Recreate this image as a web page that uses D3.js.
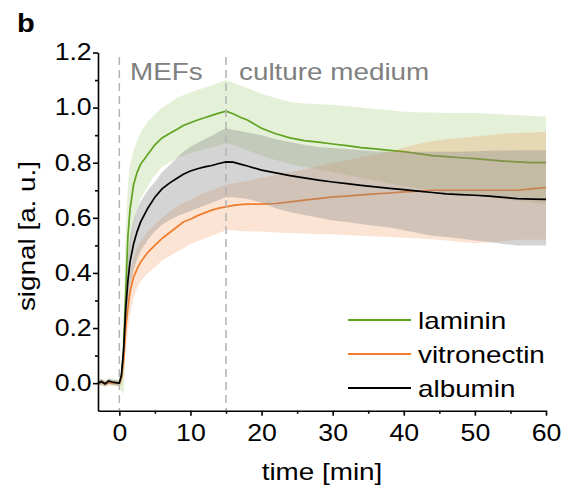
<!DOCTYPE html>
<html>
<head>
<meta charset="utf-8">
<script src="https://cdn.jsdelivr.net/npm/d3@7"></script>
<style>
  body { margin: 0; background: #fff; }
  text { font-family: "Liberation Sans", Arial, sans-serif; }
</style>
</head>
<body>
<svg id="chart" width="564" height="490"></svg>
<script>
// time axis [min]
const time = [-3,-2.5,-2,-1.5,-1,-0.5,0,0.3,0.6,0.9,1.2,1.5,2,2.5,3,4,5,6,7,8,9,10,11,12,13,14,15,16,17,18,
  20,22,24,26,28,30,32,34,36,38,40,42,44,46,48,50,52,54,56,58,60];

const lamininMean = [0.002,0.004,-0.001,0.005,0.003,0.001,0.0, 0.02,0.12,0.33,0.53,0.63, 0.72,0.765,0.795,
  0.83,0.865,0.89,0.905,0.92,0.935,0.945,0.955,0.963,0.972,0.98,0.987,0.978,0.965,0.955,
  0.925,0.905,0.89,0.88,0.875,0.868,0.862,0.855,0.85,0.845,0.84,0.833,0.826,0.822,0.818,0.815,0.81,0.806,0.803,0.80,0.80];
const lamininUpper = [0.012,0.014,0.01,0.015,0.013,0.011,0.012, 0.05,0.25,0.55,0.72,0.79, 0.845,0.88,0.91,
  0.95,0.975,1.0,1.015,1.035,1.045,1.055,1.065,1.072,1.08,1.09,1.10,1.09,1.08,1.072,
  1.05,1.035,1.02,1.015,1.012,1.01,1.005,1.0,0.995,0.99,0.985,0.983,0.982,0.98,0.98,0.98,0.978,0.975,0.972,0.97,0.967];
const lamininLower = [-0.008,-0.006,-0.01,-0.005,-0.007,-0.009,-0.012, -0.03,-0.04,0.15,0.35,0.47, 0.57,0.63,0.67,
  0.715,0.755,0.785,0.80,0.815,0.825,0.835,0.842,0.85,0.855,0.862,0.87,0.865,0.855,0.845,
  0.825,0.81,0.795,0.785,0.775,0.765,0.755,0.745,0.735,0.725,0.715,0.707,0.70,0.693,0.687,0.68,0.675,0.668,0.662,0.656,0.65];

const vitronectinMean = [0.0,0.003,-0.002,0.002,0.001,0.0,0.0, 0.02,0.08,0.20,0.27,0.33, 0.385,0.415,0.44,
  0.475,0.50,0.525,0.545,0.565,0.585,0.595,0.608,0.618,0.628,0.635,0.64,0.645,0.648,0.65,
  0.65,0.652,0.658,0.664,0.67,0.676,0.679,0.683,0.687,0.69,0.694,0.697,0.70,0.70,0.70,0.70,0.70,0.70,0.70,0.705,0.71];
const vitronectinUpper = [0.01,0.012,0.008,0.011,0.01,0.009,0.005, 0.04,0.12,0.26,0.34,0.40, 0.455,0.49,0.515,
  0.55,0.575,0.60,0.62,0.64,0.655,0.665,0.68,0.69,0.70,0.71,0.72,0.725,0.73,0.735,
  0.745,0.755,0.765,0.775,0.787,0.80,0.81,0.82,0.83,0.84,0.855,0.868,0.878,0.885,0.89,0.895,0.90,0.905,0.908,0.91,0.912];
const vitronectinLower = [-0.01,-0.008,-0.012,-0.009,-0.01,-0.011,-0.005, -0.01,0.03,0.12,0.19,0.25, 0.31,0.345,0.37,
  0.40,0.42,0.445,0.46,0.475,0.49,0.505,0.515,0.525,0.535,0.545,0.555,0.555,0.552,0.55,
  0.55,0.547,0.545,0.543,0.54,0.54,0.537,0.535,0.532,0.53,0.528,0.525,0.522,0.518,0.512,0.508,0.51,0.515,0.52,0.52,0.52];

const albuminMean = [0.0,0.006,-0.003,0.008,0.004,0.002,0.0, 0.03,0.12,0.27,0.37,0.44, 0.505,0.55,0.585,
  0.635,0.675,0.705,0.725,0.742,0.758,0.77,0.778,0.785,0.79,0.797,0.803,0.802,0.795,0.788,
  0.773,0.763,0.753,0.745,0.737,0.73,0.724,0.718,0.712,0.707,0.702,0.697,0.692,0.687,0.684,0.682,0.679,0.674,0.67,0.668,0.667];
const albuminUpper = [0.01,0.016,0.007,0.018,0.014,0.012,0.01, 0.05,0.16,0.33,0.46,0.53, 0.59,0.63,0.66,
  0.70,0.73,0.765,0.79,0.815,0.84,0.858,0.872,0.885,0.898,0.912,0.925,0.92,0.915,0.91,
  0.90,0.885,0.875,0.865,0.857,0.853,0.85,0.845,0.842,0.84,0.84,0.84,0.84,0.84,0.84,0.842,0.843,0.844,0.845,0.845,0.845];
const albuminLower = [-0.01,-0.004,-0.013,-0.002,-0.006,-0.008,-0.01, 0.01,0.08,0.21,0.29,0.35, 0.41,0.45,0.48,
  0.52,0.55,0.575,0.59,0.605,0.615,0.625,0.635,0.645,0.655,0.665,0.675,0.675,0.672,0.668,
  0.655,0.635,0.62,0.61,0.60,0.59,0.585,0.578,0.57,0.565,0.555,0.545,0.535,0.53,0.525,0.518,0.512,0.505,0.50,0.50,0.50];

const xTicks = [0, 10, 20, 30, 40, 50, 60];
const xMinor = [5, 15, 25, 35, 45, 55];
const yTicks = [0.0, 0.2, 0.4, 0.6, 0.8, 1.0, 1.2];
const yMinor = [0.1, 0.3, 0.5, 0.7, 0.9, 1.1];
const phaseTimes = [0, 15];
const phaseLabels = ["MEFs", "culture medium"];

const series = [
  { name: "laminin", mean: lamininMean, lo: lamininLower, hi: lamininUpper, color: "#5fa321", band: "#6aab24", alpha: 0.18 },
  { name: "vitronectin", mean: vitronectinMean, lo: vitronectinLower, hi: vitronectinUpper, color: "#f07d2c", band: "#f07a28", alpha: 0.2 },
  { name: "albumin", mean: albuminMean, lo: albuminLower, hi: albuminUpper, color: "#000000", band: "#888888", alpha: 0.36 }
];

const svg = d3.select("#chart");
const sx = 1.16; // the glyphs in the figure are a bit wide

const x = d3.scaleLinear().domain([-3, 60]).range([98, 546]);
const y = d3.scaleLinear().domain([-0.1, 1.2]).range([410.7, 52.5]);

const area = d => d3.area()
  .x((v, i) => x(time[i]))
  .y0((v, i) => y(d.lo[i]))
  .y1((v, i) => y(d.hi[i]));
const line = d => d3.line()
  .x((v, i) => x(time[i]))
  .y(v => y(v));

const plot = svg.append("g");

// band then line, in order: laminin, vitronectin, albumin band (albumin line last)
series.forEach((s, k) => {
  plot.append("path")
    .datum(s.mean)
    .attr("d", area(s))
    .attr("fill", s.band)
    .attr("fill-opacity", s.alpha);
  if (k < 2) {
    plot.append("path")
      .datum(s.mean)
      .attr("d", line(s))
      .attr("fill", "none")
      .attr("stroke", s.color)
      .attr("stroke-width", 1.7);
  }
});

// phase markers
plot.selectAll("line.phase")
  .data(phaseTimes)
  .join("line")
  .attr("class", "phase")
  .attr("x1", d => x(d)).attr("x2", d => x(d))
  .attr("y1", 57).attr("y2", 410)
  .attr("stroke", "#b3b3b3")
  .attr("stroke-width", 1.5)
  .attr("stroke-dasharray", "8,5");

const alb = series[2];
plot.append("path")
  .datum(alb.mean)
  .attr("d", line(alb))
  .attr("fill", "none")
  .attr("stroke", alb.color)
  .attr("stroke-width", 1.7);

svg.selectAll("text.phase")
  .data(phaseLabels)
  .join("text")
  .attr("class", "phase")
  .attr("transform", (d, i) => `translate(${i === 0 ? 130 : 239},80) scale(${sx},1)`)
  .attr("font-size", 24)
  .attr("fill", "#808080")
  .text(d => d);

// axes
const xAxis = svg.append("g").attr("transform", `translate(0,${y(-0.1)})`)
  .call(d3.axisBottom(x).tickValues(xTicks).tickSize(5).tickSizeOuter(0).tickPadding(9).tickFormat(d3.format("d")));
svg.append("g").attr("transform", `translate(0,${y(-0.1)})`)
  .call(d3.axisBottom(x).tickValues(xMinor).tickSize(3).tickSizeOuter(0).tickFormat(""))
  .call(g => g.select(".domain").remove());

const yAxis = svg.append("g").attr("transform", `translate(${x(-3)},0)`)
  .call(d3.axisLeft(y).tickValues(yTicks).tickSize(5).tickSizeOuter(0).tickFormat(d3.format(".1f")));
svg.append("g").attr("transform", `translate(${x(-3)},0)`)
  .call(d3.axisLeft(y).tickValues(yMinor).tickSize(3).tickSizeOuter(0).tickFormat(""))
  .call(g => g.select(".domain").remove());

svg.selectAll(".domain, .tick line").attr("stroke", "#000").attr("stroke-width", 1.6);
xAxis.selectAll("text").attr("font-size", 23).attr("fill", "#000")
  .attr("font-family", "Liberation Sans, Arial, sans-serif")
  .attr("transform", `scale(${sx},1)`);
yAxis.selectAll("text").attr("font-size", 23).attr("fill", "#000")
  .attr("font-family", "Liberation Sans, Arial, sans-serif")
  .attr("x", 0)
  .attr("transform", `translate(-6.3,0) scale(${sx},1)`);

svg.append("text")
  .attr("transform", `translate(322,480) scale(${sx},1)`)
  .attr("text-anchor", "middle")
  .attr("font-size", 24)
  .text("time [min]");

svg.append("text")
  .attr("transform", `translate(35,236) rotate(-90) scale(${sx},1)`)
  .attr("text-anchor", "middle")
  .attr("font-size", 24)
  .text("signal [a. u.]");

svg.append("text")
  .attr("transform", `translate(17,32) scale(1.12,1)`)
  .attr("font-size", 26)
  .attr("font-weight", "bold")
  .text("b");

// legend
const legend = svg.append("g");
series.forEach((s, i) => {
  const ly = 320 + i * 34;
  legend.append("line")
    .attr("x1", 348).attr("x2", 411)
    .attr("y1", ly).attr("y2", ly)
    .attr("stroke", s.color)
    .attr("stroke-width", 1.8);
  legend.append("text")
    .attr("transform", `translate(418,${ly + 9}) scale(${sx},1)`)
    .attr("font-size", 24)
    .text(s.name);
});
</script>
</body>
</html>
